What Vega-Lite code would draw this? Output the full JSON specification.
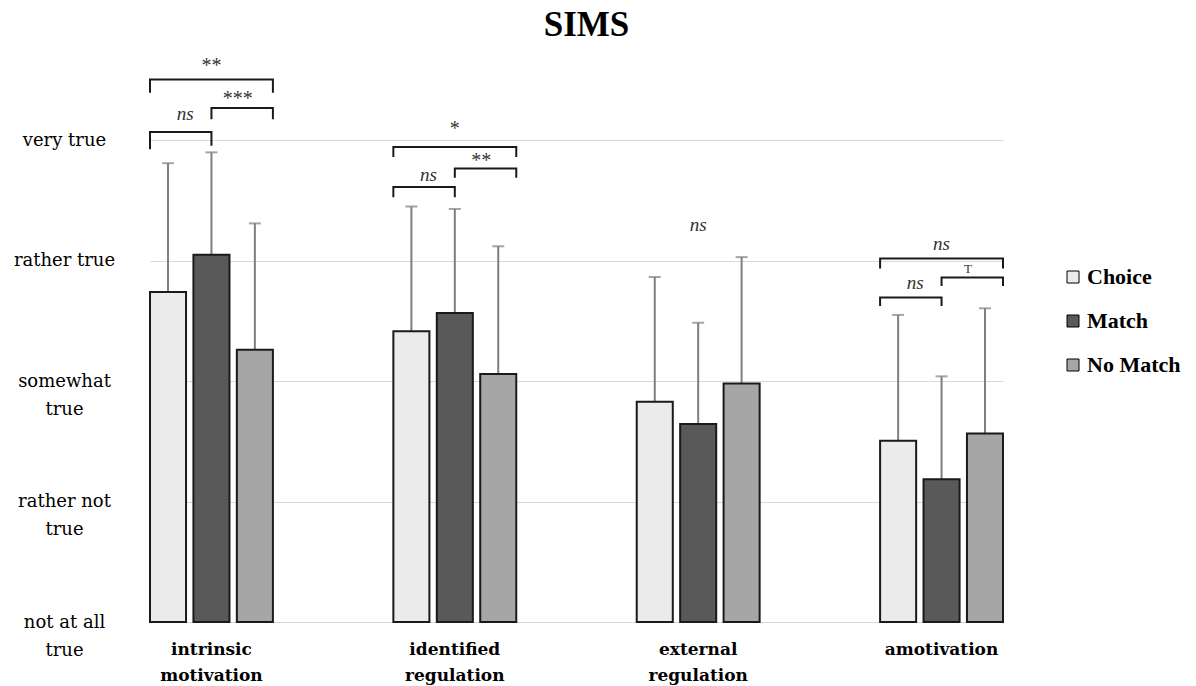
{
  "$schema": "https://vega.github.io/schema/vega-lite/v6.json",
  "width": 853,
  "height": 572,
  "autosize": {"type": "none"},
  "padding": {"left": 150, "top": 50, "right": 193, "bottom": 64},
  "background": "white",
  "title": {
    "text": "SIMS",
    "font": "Liberation Serif",
    "fontSize": 35,
    "fontWeight": "bold",
    "color": "#000000",
    "anchor": "middle",
    "frame": "group",
    "baseline": "alphabetic",
    "offset": 13,
    "dx": 10,
    "dy": 34
  },
  "datasets": {
    "bars": [
      {"cat": "intrinsic motivation", "series": "Choice", "mean": 3.74, "upper": 4.81},
      {"cat": "intrinsic motivation", "series": "Match", "mean": 4.05, "upper": 4.90},
      {"cat": "intrinsic motivation", "series": "No Match", "mean": 3.26, "upper": 4.31},
      {"cat": "identified regulation", "series": "Choice", "mean": 3.415, "upper": 4.45},
      {"cat": "identified regulation", "series": "Match", "mean": 3.565, "upper": 4.43},
      {"cat": "identified regulation", "series": "No Match", "mean": 3.06, "upper": 4.12},
      {"cat": "external regulation", "series": "Choice", "mean": 2.83, "upper": 3.865},
      {"cat": "external regulation", "series": "Match", "mean": 2.645, "upper": 3.485},
      {"cat": "external regulation", "series": "No Match", "mean": 2.98, "upper": 4.03},
      {"cat": "amotivation", "series": "Choice", "mean": 2.505, "upper": 3.55},
      {"cat": "amotivation", "series": "Match", "mean": 2.185, "upper": 3.04},
      {"cat": "amotivation", "series": "No Match", "mean": 2.565, "upper": 3.605}
    ],
    "brackets": [
      {"id": "b1", "cat": "intrinsic motivation", "series": "Choice", "y": 5.396, "o": 1},
      {"id": "b1", "cat": "intrinsic motivation", "series": "Choice", "y": 5.504, "o": 2},
      {"id": "b1", "cat": "intrinsic motivation", "series": "No Match", "y": 5.504, "o": 3},
      {"id": "b1", "cat": "intrinsic motivation", "series": "No Match", "y": 5.396, "o": 4},
      {"id": "b2", "cat": "intrinsic motivation", "series": "Match", "y": 5.174, "o": 1},
      {"id": "b2", "cat": "intrinsic motivation", "series": "Match", "y": 5.268, "o": 2},
      {"id": "b2", "cat": "intrinsic motivation", "series": "No Match", "y": 5.268, "o": 3},
      {"id": "b2", "cat": "intrinsic motivation", "series": "No Match", "y": 5.174, "o": 4},
      {"id": "b3", "cat": "intrinsic motivation", "series": "Choice", "y": 4.925, "o": 1},
      {"id": "b3", "cat": "intrinsic motivation", "series": "Choice", "y": 5.069, "o": 2},
      {"id": "b3", "cat": "intrinsic motivation", "series": "Match", "y": 5.069, "o": 3},
      {"id": "b3", "cat": "intrinsic motivation", "series": "Match", "y": 4.955, "o": 4},
      {"id": "b4", "cat": "identified regulation", "series": "Choice", "y": 4.861, "o": 1},
      {"id": "b4", "cat": "identified regulation", "series": "Choice", "y": 4.944, "o": 2},
      {"id": "b4", "cat": "identified regulation", "series": "No Match", "y": 4.944, "o": 3},
      {"id": "b4", "cat": "identified regulation", "series": "No Match", "y": 4.861, "o": 4},
      {"id": "b5", "cat": "identified regulation", "series": "Match", "y": 4.69, "o": 1},
      {"id": "b5", "cat": "identified regulation", "series": "Match", "y": 4.765, "o": 2},
      {"id": "b5", "cat": "identified regulation", "series": "No Match", "y": 4.765, "o": 3},
      {"id": "b5", "cat": "identified regulation", "series": "No Match", "y": 4.69, "o": 4},
      {"id": "b6", "cat": "identified regulation", "series": "Choice", "y": 4.527, "o": 1},
      {"id": "b6", "cat": "identified regulation", "series": "Choice", "y": 4.612, "o": 2},
      {"id": "b6", "cat": "identified regulation", "series": "Match", "y": 4.612, "o": 3},
      {"id": "b6", "cat": "identified regulation", "series": "Match", "y": 4.527, "o": 4},
      {"id": "b7", "cat": "amotivation", "series": "Choice", "y": 3.935, "o": 1},
      {"id": "b7", "cat": "amotivation", "series": "Choice", "y": 4.018, "o": 2},
      {"id": "b7", "cat": "amotivation", "series": "No Match", "y": 4.018, "o": 3},
      {"id": "b7", "cat": "amotivation", "series": "No Match", "y": 3.935, "o": 4},
      {"id": "b8", "cat": "amotivation", "series": "Match", "y": 3.791, "o": 1},
      {"id": "b8", "cat": "amotivation", "series": "Match", "y": 3.861, "o": 2},
      {"id": "b8", "cat": "amotivation", "series": "No Match", "y": 3.861, "o": 3},
      {"id": "b8", "cat": "amotivation", "series": "No Match", "y": 3.791, "o": 4},
      {"id": "b9", "cat": "amotivation", "series": "Choice", "y": 3.625, "o": 1},
      {"id": "b9", "cat": "amotivation", "series": "Choice", "y": 3.695, "o": 2},
      {"id": "b9", "cat": "amotivation", "series": "Match", "y": 3.695, "o": 3},
      {"id": "b9", "cat": "amotivation", "series": "Match", "y": 3.625, "o": 4}
    ],
    "labels": [
      {"cat": "intrinsic motivation", "over": "Match", "label": "**", "y": 5.62},
      {"cat": "intrinsic motivation", "over": "Match–No Match", "label": "***", "y": 5.345},
      {"cat": "intrinsic motivation", "over": "Choice–Match", "label": "ns", "y": 5.216},
      {"cat": "identified regulation", "over": "Match", "label": "*", "y": 5.09},
      {"cat": "identified regulation", "over": "Match–No Match", "label": "**", "y": 4.825},
      {"cat": "identified regulation", "over": "Choice–Match", "label": "ns", "y": 4.71},
      {"cat": "external regulation", "over": "Match", "label": "ns", "y": 4.30},
      {"cat": "amotivation", "over": "Match", "label": "ns", "y": 4.143},
      {"cat": "amotivation", "over": "Match–No Match", "label": "T", "y": 3.93},
      {"cat": "amotivation", "over": "Choice–Match", "label": "ns", "y": 3.819}
    ]
  },
  "resolve": {"scale": {"xOffset": "independent"}},
  "layer": [
    {
      "data": {"name": "bars"},
      "mark": {"type": "rule", "color": "#7f7f7f", "strokeWidth": 2},
      "encoding": {
        "x": {
          "field": "cat", "type": "nominal",
          "sort": ["intrinsic motivation", "identified regulation", "external regulation", "amotivation"],
          "scale": {"paddingInner": 0.495, "paddingOuter": 0},
          "axis": {
            "title": null, "labelAngle": 0, "domain": false, "ticks": false,
            "labelFont": "DejaVu Serif", "labelFontWeight": "bold", "labelFontSize": 17,
            "labelColor": "#000000", "labelBaseline": "top", "labelPadding": 19,
            "labelLineHeight": 26, "labelExpr": "split(datum.label, ' ')"
          }
        },
        "xOffset": {"field": "series", "type": "nominal", "sort": ["Choice", "Match", "No Match"], "scale": {"paddingInner": 0.17, "paddingOuter": 0}},
        "y": {
          "field": "mean", "type": "quantitative",
          "scale": {"domain": [1, 5.75], "nice": false, "zero": false},
          "axis": {
            "title": null, "values": [1, 2, 3, 4, 5], "domain": false, "ticks": false, "tickSize": 0,
            "grid": true, "gridColor": "#d9d9d9", "gridWidth": 1,
            "labelFont": "DejaVu Serif", "labelFontSize": 18, "labelColor": "#000000",
            "labelAlign": "center", "labelBaseline": "middle", "labelPadding": 86, "labelLineHeight": 28,
            "labelExpr": "datum.value == 5 ? 'very true' : datum.value == 4 ? 'rather true' : datum.value == 3 ? ['somewhat', 'true'] : datum.value == 2 ? ['rather not', 'true'] : ['not at all', 'true']"
          }
        },
        "y2": {"field": "upper"}
      }
    },
    {
      "data": {"name": "bars"},
      "mark": {"type": "tick", "orient": "horizontal", "color": "#7f7f7f", "size": 12, "thickness": 2},
      "encoding": {
        "x": {"field": "cat", "type": "nominal", "sort": ["intrinsic motivation", "identified regulation", "external regulation", "amotivation"]},
        "xOffset": {"field": "series", "type": "nominal", "sort": ["Choice", "Match", "No Match"], "scale": {"paddingInner": 0.17, "paddingOuter": 0}},
        "y": {"field": "upper", "type": "quantitative"}
      }
    },
    {
      "data": {"name": "bars"},
      "mark": {"type": "bar", "stroke": "#1a1a1a", "strokeWidth": 2},
      "encoding": {
        "x": {"field": "cat", "type": "nominal", "sort": ["intrinsic motivation", "identified regulation", "external regulation", "amotivation"]},
        "xOffset": {"field": "series", "type": "nominal", "sort": ["Choice", "Match", "No Match"], "scale": {"paddingInner": 0.17, "paddingOuter": 0}},
        "y": {"field": "mean", "type": "quantitative"},
        "y2": {"datum": 1},
        "color": {
          "field": "series", "type": "nominal",
          "scale": {"domain": ["Choice", "Match", "No Match"], "range": ["#ebebeb", "#595959", "#a6a6a6"]},
          "legend": {
            "title": null, "orient": "none", "legendX": 912, "legendY": 216,
            "symbolType": "square", "symbolSize": 144, "symbolStrokeColor": "#000000", "symbolStrokeWidth": 1,
            "labelFont": "Liberation Serif", "labelFontWeight": "bold", "labelFontSize": 22, "labelColor": "#000000",
            "labelOffset": 3, "rowPadding": 22, "padding": 0
          }
        }
      }
    },
    {
      "data": {"name": "brackets"},
      "mark": {"type": "line", "color": "#1a1a1a", "strokeWidth": 2, "strokeJoin": "miter"},
      "encoding": {
        "x": {"field": "cat", "type": "nominal", "sort": ["intrinsic motivation", "identified regulation", "external regulation", "amotivation"]},
        "xOffset": {"field": "series", "type": "nominal", "sort": ["Choice", "Match", "No Match"], "scale": {"domain": ["Choice", "Match", "No Match"], "paddingInner": 0.17, "paddingOuter": 0}},
        "y": {"field": "y", "type": "quantitative"},
        "detail": {"field": "id"},
        "order": {"field": "o"}
      }
    },
    {
      "data": {"name": "labels"},
      "transform": [{"filter": "datum.label == 'ns'"}],
      "mark": {"type": "text", "font": "Liberation Serif", "fontStyle": "italic", "fontSize": 19, "color": "#333333", "baseline": "middle"},
      "encoding": {
        "x": {"field": "cat", "type": "nominal", "sort": ["intrinsic motivation", "identified regulation", "external regulation", "amotivation"]},
        "xOffset": {"field": "over", "type": "nominal", "scale": {"domain": ["Choice", "Choice–Match", "Match", "Match–No Match", "No Match"], "paddingInner": 0, "paddingOuter": 0.332}},
        "y": {"field": "y", "type": "quantitative"},
        "text": {"field": "label"}
      }
    },
    {
      "data": {"name": "labels"},
      "transform": [{"filter": "datum.label != 'ns' && datum.label != 'T'"}],
      "mark": {"type": "text", "font": "Liberation Serif", "fontSize": 20, "color": "#333333", "baseline": "middle"},
      "encoding": {
        "x": {"field": "cat", "type": "nominal", "sort": ["intrinsic motivation", "identified regulation", "external regulation", "amotivation"]},
        "xOffset": {"field": "over", "type": "nominal", "scale": {"domain": ["Choice", "Choice–Match", "Match", "Match–No Match", "No Match"], "paddingInner": 0, "paddingOuter": 0.332}},
        "y": {"field": "y", "type": "quantitative"},
        "text": {"field": "label"}
      }
    },
    {
      "data": {"name": "labels"},
      "transform": [{"filter": "datum.label == 'T'"}],
      "mark": {"type": "text", "font": "Liberation Serif", "fontSize": 13, "color": "#333333", "baseline": "middle"},
      "encoding": {
        "x": {"field": "cat", "type": "nominal", "sort": ["intrinsic motivation", "identified regulation", "external regulation", "amotivation"]},
        "xOffset": {"field": "over", "type": "nominal", "scale": {"domain": ["Choice", "Choice–Match", "Match", "Match–No Match", "No Match"], "paddingInner": 0, "paddingOuter": 0.332}},
        "y": {"field": "y", "type": "quantitative"},
        "text": {"field": "label"}
      }
    }
  ],
  "config": {
    "view": {"stroke": null}
  }
}
